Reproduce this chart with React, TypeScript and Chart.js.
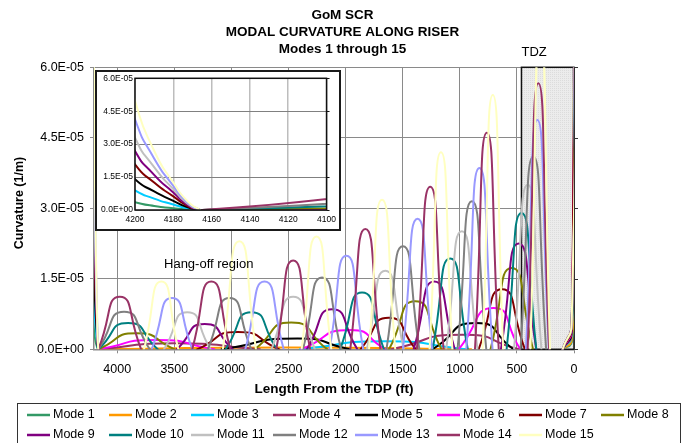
import React, { useEffect, useRef } from 'react';
import { Chart, registerables } from 'chart.js';

Chart.register(...registerables);

const FONT = '"Liberation Sans", Arial, Helvetica, sans-serif';

const TITLE_LINES = ['GoM SCR', 'MODAL CURVATURE ALONG RISER', 'Modes 1 through 15'];
const X_TITLE = 'Length From the TDP (ft)';
const Y_TITLE = 'Curvature (1/m)';
const TDZ_LABEL = 'TDZ';
const HANG_OFF_LABEL = 'Hang-off region';

const MODE_NAMES = [
  'Mode 1', 'Mode 2', 'Mode 3', 'Mode 4', 'Mode 5', 'Mode 6', 'Mode 7', 'Mode 8',
  'Mode 9', 'Mode 10', 'Mode 11', 'Mode 12', 'Mode 13', 'Mode 14', 'Mode 15',
];
const MODE_COLORS = [
  '#339966', '#FF9900', '#00CCFF', '#993366', '#000000', '#FF00FF', '#800000', '#808000',
  '#800080', '#008080', '#C0C0C0', '#808080', '#9999FF', '#993366', '#FFFFC0',
];

// axis ticks (curvature values are in units of 1E-05 1/m)
const X_TICKS = [4000, 3500, 3000, 2500, 2000, 1500, 1000, 500, 0];
const Y_TICKS = [0, 1.5, 3.0, 4.5, 6.0];
const Y_TICK_LABELS = ['0.0E+00', '1.5E-05', '3.0E-05', '4.5E-05', '6.0E-05'];
const INSET_X_TICKS = [4200, 4180, 4160, 4140, 4120, 4100];
const INSET_X_LABELS = ['4200', '4180', '4160', '4140', '4120', '4100'];
const TDZ_RANGE = [460, 0];

// hang-off end (odd modes): curvature at these lengths
const HANG_OFF_X = [4212, 4200, 4190, 4180, 4172, 4166];
const HANG_M1 = [0.65, 0.36, 0.18, 0.08, 0.02, 0];
const HANG_M3 = [1.65, 0.9, 0.52, 0.25, 0.07, 0];
const HANG_M5 = [2.6, 1.4, 0.85, 0.42, 0.11, 0];
const HANG_M7 = [3.8, 2.08, 1.25, 0.62, 0.16, 0];
const HANG_M9 = [4.9, 2.69, 1.6, 0.8, 0.2, 0];
const HANG_M11 = [6.0, 3.3, 1.95, 0.95, 0.25, 0];
const HANG_M13 = [7.5, 4.13, 2.35, 1.1, 0.3, 0];
const HANG_M15 = [9.0, 4.97, 2.7, 1.25, 0.35, 0];
const HANG_OFF_VALUES = [
  HANG_M1, null, HANG_M3, null, HANG_M5, null, HANG_M7, null,
  HANG_M9, null, HANG_M11, null, HANG_M13, null, HANG_M15,
];

// lobes: [start length, peak length, peak curvature, end length]
const LOBES_M1: number[][] = [];
const LOBES_M2 = [[4165, 2500, 0.04, 900]];
const LOBES_M3 = [[2400, 1650, 0.17, 950]];
const LOBES_M4 = [[4165, 3500, 0.13, 2750], [1600, 975, 0.31, 480]];
const LOBES_M5 = [[3085, 2420, 0.23, 1960], [1240, 855, 0.56, 530]];
const LOBES_M6 = [[4165, 3660, 0.2, 3150], [2390, 1960, 0.41, 1650], [1010, 705, 0.88, 470]];
const LOBES_M7 = [[3300, 2943, 0.37, 2580], [1870, 1623, 0.67, 1385], [835, 630, 1.28, 430]];
const LOBES_M8 = [[4165, 3831, 0.34, 3497], [2797, 2477, 0.57, 2160], [1620, 1390, 1.02, 1160], [731, 545, 1.73, 359]];
const LOBES_M9 = [[3479, 3234, 0.54, 2989], [2339, 2118, 0.85, 1897], [1404, 1224, 1.44, 1044], [640, 485, 2.25, 330]];
const LOBES_M10 = [[4165, 3905, 0.56, 3645], [3051, 2826, 0.79, 2601], [2048, 1856, 1.21, 1664], [1238, 1084, 1.93, 930], [590, 460, 2.9, 330]];
const LOBES_M11 = [[3590, 3386, 0.79, 3182], [2649, 2459, 1.12, 2269], [1814, 1652, 1.67, 1490], [1119, 982, 2.51, 845], [525, 405, 3.5, 285]];
const LOBES_M12 = [[4165, 3940, 0.8, 3715], [3206, 3016, 1.09, 2826], [2373, 2206, 1.53, 2039], [1642, 1498, 2.19, 1354], [1020, 894, 3.15, 768], [468, 356, 4.1, 244]];
const LOBES_M13 = [[3698, 3520, 1.09, 3342], [2878, 2710, 1.44, 2542], [2140, 1993, 1.99, 1846], [1498, 1370, 2.78, 1242], [943, 828, 3.86, 713], [421, 321, 4.88, 221]];
const LOBES_M14 = [[4165, 3977, 1.12, 3790], [3343, 3176, 1.44, 3009], [2607, 2459, 1.89, 2311], [1959, 1827, 2.56, 1695], [1376, 1259, 3.46, 1142], [867, 763, 4.61, 659], [406, 312, 5.66, 218]];
const LOBES_M15 = [[3765, 3613, 1.44, 3465], [3075, 2930, 2.3, 2785], [2385, 2255, 2.4, 2125], [1795, 1681, 3.18, 1565], [1265, 1165, 4.19, 1065], [800, 711, 5.41, 620], [382, 295, 6.8, 210]];
const LOBES = [
  LOBES_M1, LOBES_M2, LOBES_M3, LOBES_M4, LOBES_M5, LOBES_M6, LOBES_M7, LOBES_M8,
  LOBES_M9, LOBES_M10, LOBES_M11, LOBES_M12, LOBES_M13, LOBES_M14, LOBES_M15,
];

// touch-down point end
const TDP_END_X = [100, 20, 0];
const TDP_END_VALUES = [
  [0, 0.15, 0.6], [0, 0.2, 1.0], [0, 0.3, 1.9], [0, 0.35, 2.9], [0, 0.4, 3.8],
  [0, 0.45, 4.6], [0, 0.5, 5.5], [0, 0.55, 6.5], [0, 0.6, 7.5], [0, 0.6, 8.0],
  [0, 0.6, 8.5], [0, 0.6, 9.0], [0, 0.6, 9.5], [0, 0.6, 10.0], [0, 0.6, 10.5],
];

type Pt = { x: number; y: number | null };

function buildPoints(m: number): Pt[] {
  const pts: Pt[] = [];
  const hang = HANG_OFF_VALUES[m];
  if (hang) {
    HANG_OFF_X.forEach((x, k) => pts.push({ x, y: hang[k] }));
    pts.push({ x: HANG_OFF_X[HANG_OFF_X.length - 1], y: null });
  }
  for (const lobe of LOBES[m]) {
    const [x0, xp, yp, x1] = lobe;
    pts.push({ x: x0, y: 0 }, { x: xp, y: yp }, { x: x1, y: 0 }, { x: x1, y: null });
  }
  const end = TDP_END_VALUES[m];
  TDP_END_X.forEach((x, k) => pts.push({ x, y: end[k] }));
  return pts;
}

function buildDatasets() {
  return MODE_NAMES.map((name, i) => ({
    label: name,
    data: buildPoints(i),
    borderColor: MODE_COLORS[i],
    backgroundColor: MODE_COLORS[i],
    borderWidth: 2,
    pointRadius: 0,
    tension: 0.65,
    fill: false,
    spanGaps: false,
    borderCapStyle: 'round' as const,
    borderJoinStyle: 'round' as const,
    order: MODE_NAMES.length - i,
  }));
}

function makePattern(): CanvasPattern | string {
  const c = document.createElement('canvas');
  c.width = 2;
  c.height = 2;
  const g = c.getContext('2d');
  if (!g) return '#e8e8e8';
  g.fillStyle = '#ececec';
  g.fillRect(0, 0, 2, 2);
  g.fillStyle = '#dcdcdc';
  g.fillRect(0, 0, 1, 1);
  return g.createPattern(c, 'repeat') || '#e8e8e8';
}

const mainPlugin = {
  id: 'mainDecor',
  beforeDraw(chart: any) {
    const ctx = chart.ctx;
    ctx.save();
    ctx.fillStyle = '#ffffff';
    ctx.fillRect(0, 0, chart.width, chart.height);
    ctx.restore();
  },
  beforeDatasetsDraw(chart: any) {
    const ctx = chart.ctx;
    const a = chart.chartArea;
    const xs = chart.scales.x;
    const x0 = xs.getPixelForValue(TDZ_RANGE[0]);
    const x1 = xs.getPixelForValue(TDZ_RANGE[1]);
    ctx.save();
    ctx.fillStyle = makePattern();
    ctx.fillRect(x0, a.top, x1 - x0, a.bottom - a.top);
    ctx.strokeStyle = '#111';
    ctx.lineWidth = 1.5;
    ctx.strokeRect(x0, a.top, x1 - x0, a.bottom - a.top);
    ctx.restore();
  },
  afterDraw(chart: any) {
    const ctx = chart.ctx;
    const a = chart.chartArea;
    const xs = chart.scales.x;
    const ys = chart.scales.y;
    ctx.save();
    // right-side tick marks
    ctx.strokeStyle = '#333';
    ctx.lineWidth = 1;
    Y_TICKS.forEach((v) => {
      const y = Math.round(ys.getPixelForValue(v)) + 0.5;
      ctx.beginPath();
      ctx.moveTo(a.right, y);
      ctx.lineTo(a.right + 4, y);
      ctx.stroke();
    });
    ctx.fillStyle = '#000';
    ctx.textAlign = 'center';
    ctx.textBaseline = 'middle';
    ctx.font = `bold 13.5px ${FONT}`;
    TITLE_LINES.forEach((t, i) => ctx.fillText(t, chart.width / 2, 15 + i * 17));
    ctx.fillText(X_TITLE, (a.left + a.right) / 2, 389);
    ctx.save();
    ctx.translate(20, 203);
    ctx.rotate(-Math.PI / 2);
    ctx.font = `bold 12.5px ${FONT}`;
    ctx.fillText(Y_TITLE, 0, 0);
    ctx.restore();
    ctx.font = `13px ${FONT}`;
    ctx.textAlign = 'left';
    ctx.fillText(TDZ_LABEL, xs.getPixelForValue(TDZ_RANGE[0]), 52);
    ctx.fillText(HANG_OFF_LABEL, xs.getPixelForValue(3590), ys.getPixelForValue(1.8));
    // legend
    ctx.strokeStyle = '#333';
    ctx.lineWidth = 1;
    ctx.strokeRect(17.5, 403.5, 663, 60);
    ctx.font = `12.5px ${FONT}`;
    MODE_NAMES.forEach((name, i) => {
      const row = Math.floor(i / 8);
      const col = i % 8;
      const lx = 27 + col * 82;
      const ly = 415 + row * 20;
      ctx.strokeStyle = MODE_COLORS[i];
      ctx.lineWidth = 2.5;
      ctx.beginPath();
      ctx.moveTo(lx, ly);
      ctx.lineTo(lx + 23, ly);
      ctx.stroke();
      ctx.fillStyle = '#000';
      ctx.fillText(name, lx + 26, ly);
    });
    ctx.restore();
  },
};

const insetPlugin = {
  id: 'insetDecor',
  beforeDraw(chart: any) {
    const ctx = chart.ctx;
    ctx.save();
    ctx.fillStyle = '#ffffff';
    ctx.fillRect(0, 0, chart.width, chart.height);
    ctx.restore();
  },
  afterDraw(chart: any) {
    const ctx = chart.ctx;
    const a = chart.chartArea;
    const ys = chart.scales.y;
    ctx.save();
    ctx.strokeStyle = '#111';
    ctx.lineWidth = 1.5;
    ctx.strokeRect(a.left, a.top, a.right - a.left, a.bottom - a.top);
    ctx.lineWidth = 1;
    Y_TICKS.forEach((v) => {
      const y = Math.round(ys.getPixelForValue(v)) + 0.5;
      ctx.beginPath();
      ctx.moveTo(a.right, y);
      ctx.lineTo(a.right + 3, y);
      ctx.stroke();
    });
    ctx.strokeStyle = '#1a1a1a';
    ctx.lineWidth = 2;
    ctx.strokeRect(1, 1, chart.width - 2, chart.height - 2);
    ctx.restore();
  },
};

function mainConfig(): any {
  return {
    type: 'line',
    data: { datasets: buildDatasets() },
    options: {
      responsive: false,
      animation: false,
      devicePixelRatio: 1,
      events: [],
      layout: { padding: { top: 67.3, right: 111, left: 0, bottom: 0 } },
      plugins: { legend: { display: false }, tooltip: { enabled: false }, title: { display: false } },
      scales: {
        x: {
          type: 'linear',
          reverse: true,
          min: 0,
          max: 4203,
          afterBuildTicks: (s: any) => { s.ticks = X_TICKS.map((v) => ({ value: v })); },
          afterFit: (s: any) => { s.height = 93.7; },
          ticks: {
            color: '#000',
            font: { family: FONT, size: 12.5 },
            padding: 9,
            maxRotation: 0,
            autoSkip: false,
            callback: (v: any) => String(v),
          },
          grid: { color: '#8a8a8a', lineWidth: 1, tickLength: 4, tickColor: '#8a8a8a' },
          border: { color: '#8a8a8a', width: 1.5 },
        },
        y: {
          type: 'linear',
          min: 0,
          max: 6,
          afterBuildTicks: (s: any) => { s.ticks = Y_TICKS.map((v) => ({ value: v })); },
          afterFit: (s: any) => { s.width = 94; },
          ticks: {
            color: '#000',
            font: { family: FONT, size: 12.5 },
            padding: 6,
            autoSkip: false,
            callback: (_v: any, i: number) => Y_TICK_LABELS[i],
          },
          grid: { color: '#8a8a8a', lineWidth: 1, tickLength: 4, tickColor: '#8a8a8a' },
          border: { color: '#8a8a8a', width: 1.5 },
        },
      },
    },
    plugins: [mainPlugin],
  };
}

function insetConfig(): any {
  return {
    type: 'line',
    data: { datasets: buildDatasets() },
    options: {
      responsive: false,
      animation: false,
      devicePixelRatio: 1,
      events: [],
      layout: { padding: { top: 8.3, right: 9.3, left: 0, bottom: 0 } },
      plugins: { legend: { display: false }, tooltip: { enabled: false }, title: { display: false } },
      scales: {
        x: {
          type: 'linear',
          reverse: true,
          min: 4100,
          max: 4200,
          afterBuildTicks: (s: any) => { s.ticks = INSET_X_TICKS.map((v) => ({ value: v })); },
          afterFit: (s: any) => { s.height = 21; },
          ticks: {
            color: '#000',
            font: { family: FONT, size: 8.5 },
            padding: 5,
            maxRotation: 0,
            autoSkip: false,
            callback: (_v: any, i: number) => INSET_X_LABELS[i],
          },
          grid: { color: '#bdbdbd', lineWidth: 1.5, drawTicks: false },
          border: { display: false },
        },
        y: {
          type: 'linear',
          min: 0,
          max: 6,
          afterBuildTicks: (s: any) => { s.ticks = Y_TICKS.map((v) => ({ value: v })); },
          afterFit: (s: any) => { s.width = 40; },
          ticks: {
            color: '#000',
            font: { family: FONT, size: 8.5 },
            padding: 2,
            autoSkip: false,
            callback: (_v: any, i: number) => Y_TICK_LABELS[i],
          },
          grid: { color: '#808080', lineWidth: 1, drawTicks: false },
          border: { display: false },
        },
      },
    },
    plugins: [insetPlugin],
  };
}

export default function App() {
  const mainRef = useRef<HTMLCanvasElement | null>(null);
  const insetRef = useRef<HTMLCanvasElement | null>(null);

  useEffect(() => {
    document.body.style.margin = '0';
    if (!mainRef.current || !insetRef.current) return;
    const main = new Chart(mainRef.current, mainConfig());
    const inset = new Chart(insetRef.current, insetConfig());
    return () => {
      main.destroy();
      inset.destroy();
    };
  }, []);

  return (
    <div style={{ position: 'relative', width: 685, height: 443, overflow: 'hidden', background: '#fff' }}>
      <canvas
        ref={mainRef}
        width={685}
        height={443}
        style={{ position: 'absolute', left: 0, top: 0, width: 685, height: 443 }}
      />
      <canvas
        ref={insetRef}
        width={246}
        height={161}
        style={{ position: 'absolute', left: 95, top: 70, width: 246, height: 161 }}
      />
    </div>
  );
}
